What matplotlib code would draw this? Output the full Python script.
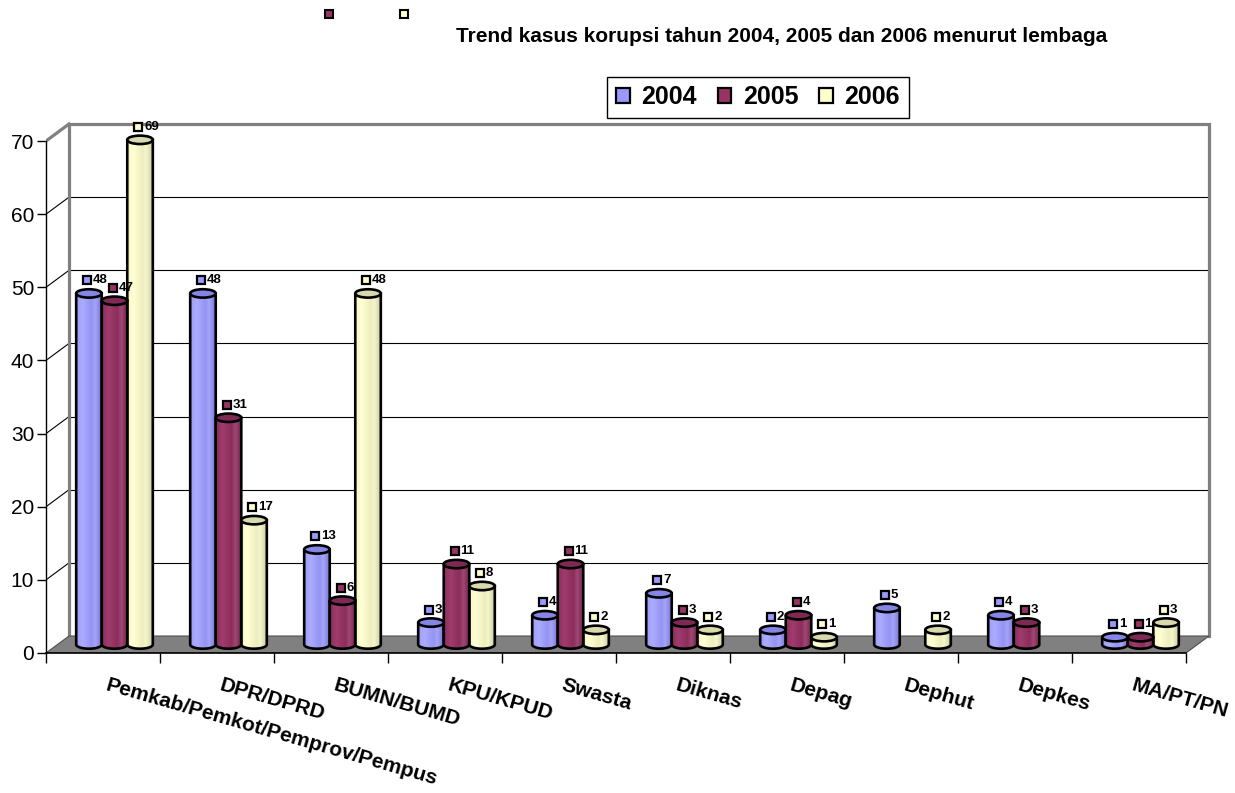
import numpy as np
import matplotlib
matplotlib.use('Agg')
import matplotlib.pyplot as plt
from matplotlib.patches import Ellipse, Polygon, PathPatch, Patch
from matplotlib.path import Path
from matplotlib.transforms import offset_copy
from matplotlib.lines import Line2D
from matplotlib.colors import to_rgb

plt.rcParams['font.family'] = ['Liberation Sans', 'DejaVu Sans']

# --- data ---
categories = ['Pemkab/Pemkot/Pemprov/Pempus', 'DPR/DPRD', 'BUMN/BUMD', 'KPU/KPUD',
              'Swasta', 'Diknas', 'Depag', 'Dephut', 'Depkes', 'MA/PT/PN']
years = ['2004', '2005', '2006']
cases_2004 = [48, 48, 13, 3, 4, 7, 2, 5, 4, 1]
cases_2005 = [47, 31, 6, 11, 11, 3, 4, 0, 3, 1]
cases_2006 = [69, 17, 48, 8, 2, 2, 1, 2, 0, 3]
yticks = [0, 10, 20, 30, 40, 50, 60, 70]
title = 'Trend kasus korupsi tahun 2004, 2005 dan 2006 menurut lembaga'

# --- style ---
FACE = ['#9999FF', '#993366', '#FFFFCC']
GRAD = [
    ['#9C9CFA', '#ACACFF', '#9494F2', '#A4A4F8', '#7676D6'],
    ['#8E2F5E', '#A03C6E', '#8B2D5B', '#A04874', '#70204A'],
    ['#F6F6C6', '#FFFFD4', '#EDEDBF', '#F5F5CD', '#CDCDA0'],
]
STOPS = [0.0, 0.25, 0.6, 0.75, 1.0]
TOP = ['#8585E6', '#7E2A55', '#D9D9AE']
WALL = '#808080'

W, H = 1235, 793
fig = plt.figure(figsize=(W / 100, H / 100), dpi=100)
ax = fig.add_axes([46 / W, (H - 653) / H, 1174 / W, 534 / H])
XMAX = -0.5 + 1174 / 114
YMAX = 534 / 7.314

DX = 23 / 114          # depth offset in category units
DY = 17 / 7.314        # depth offset in value units
BW = 0.224             # cylinder width
EH = 1.15              # ellipse height (value units)
n = len(categories)

# back wall + side wall
ax.plot([-0.5 + DX, -0.5 + DX, n - 0.5 + DX, n - 0.5 + DX],
        [DY, yticks[-1] + DY, yticks[-1] + DY, DY], color=WALL, lw=2.3,
        solid_joinstyle='miter', zorder=2)
ax.plot([-0.5, -0.5 + DX], [yticks[-1], yticks[-1] + DY], color=WALL, lw=2.3, zorder=2)
for v in yticks[1:-1]:
    ax.plot([-0.5 + DX, n - 0.5 + DX], [v + DY, v + DY], color='black', lw=0.8, zorder=1)
    ax.plot([-0.5, -0.5 + DX], [v, v + DY], color='black', lw=0.8, zorder=1)

# floor
ax.add_patch(Polygon([(-0.5, 0), (n - 0.5, 0), (n - 0.5 + DX, DY), (-0.5 + DX, DY)],
                     closed=True, facecolor=WALL, edgecolor='#505050', lw=0.8, zorder=3))


def gradient(j):
    t = np.linspace(0, 1, 64)
    cols = np.array([to_rgb(c) for c in GRAD[j]])
    img = np.stack([np.interp(t, STOPS, cols[:, k]) for k in range(3)], axis=-1)
    return img[np.newaxis, :, :]


series = [cases_2004, cases_2005, cases_2006]
for i in range(n):
    for j, vals in enumerate(series):
        v = vals[i]
        if v == 0:
            continue
        xc = i + DX / 2 + (j - 1) * BW
        base = DY / 2
        top = v + DY / 2
        x0, x1 = xc - BW / 2, xc + BW / 2
        th = np.linspace(np.pi, 2 * np.pi, 40)
        pts = [(x0, top), (x0, base)]
        pts += list(zip(xc + BW / 2 * np.cos(th), base + EH / 2 * np.sin(th)))
        pts += [(x1, top), (x0, top)]
        body = PathPatch(Path(pts), facecolor='none', edgecolor='black', lw=1.9,
                         zorder=5 + i * 0.1)
        ax.add_patch(body)
        im = ax.imshow(gradient(j), extent=(x0, x1, base - EH / 2, top), aspect='auto',
                       zorder=4.9 + i * 0.1, interpolation='bilinear')
        im.set_clip_path(body)
        ax.add_patch(Ellipse((xc, top), BW, EH, facecolor=TOP[j], edgecolor='black',
                             lw=1.9, zorder=5.05 + i * 0.1))
        # data label
        ax.plot(xc, top, marker='s', ms=5.8, mfc=FACE[j], mec='black', mew=1.6,
                transform=offset_copy(ax.transData, fig, x=-2, y=13, units='dots'),
                zorder=8, clip_on=False)
        ax.text(xc, top, str(v), fontsize=9.5, fontweight='bold', ha='left', va='center',
                transform=offset_copy(ax.transData, fig, x=4, y=13, units='dots'), zorder=8)

# category labels
for i, cat in enumerate(categories):
    ax.text(i, 0, cat, fontsize=15, fontweight='bold', rotation=-16,
            rotation_mode='anchor', ha='left', va='top',
            transform=offset_copy(ax.transData, fig, x=6, y=-23, units='dots'))

ax.set_xlim(-0.5, XMAX)
ax.set_ylim(0, YMAX)
ax.set_facecolor('none')
for s in ['top', 'right']:
    ax.spines[s].set_visible(False)
ax.spines['left'].set_bounds(0, yticks[-1])
ax.spines['bottom'].set_bounds(-0.5, n - 0.5)
ax.spines['left'].set_linewidth(1.0)
ax.spines['bottom'].set_linewidth(1.2)
ax.spines['left'].set_zorder(6)
ax.spines['bottom'].set_zorder(6)
ax.set_yticks(yticks)
ax.set_yticklabels([str(v) for v in yticks])
ax.tick_params(axis='y', direction='out', length=6.5, width=1.0, labelsize=15, pad=2)
ax.set_xticks(np.arange(-0.5, n, 1.0))
ax.set_xticklabels([])
ax.tick_params(axis='x', direction='out', length=7, width=1.0)

fig.text(782 / W, 1 - 37 / H, title, ha='center', va='center', fontsize=15,
         fontweight='bold')

handles = [Patch(facecolor=c, edgecolor='black', lw=1.6) for c in FACE]
fig.legend(handles, years, loc='center', bbox_to_anchor=(758 / W, 1 - 97.5 / H),
           ncol=3, frameon=True, fancybox=False, edgecolor='black', framealpha=1,
           prop={'weight': 'bold', 'size': 18}, handlelength=0.55, handleheight=0.55,
           handletextpad=0.45, columnspacing=0.85, borderpad=0.35, borderaxespad=0)

# stray legend keys at the top of the original
for xp, c in [(329, FACE[1]), (404, FACE[2])]:
    fig.add_artist(Line2D([xp / W], [1 - 14 / H], transform=fig.transFigure, marker='s',
                          ms=5.6, mfc=c, mec='black', mew=1.5, ls='none'))

fig.savefig('out.png', dpi=100)
